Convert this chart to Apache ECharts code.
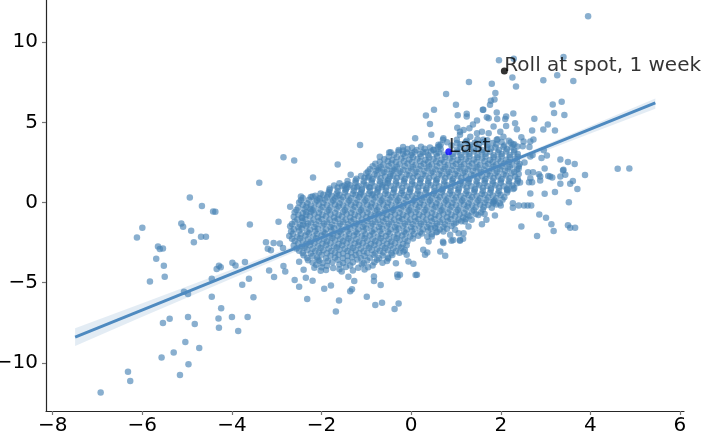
<!DOCTYPE html>
<html><head><meta charset="utf-8">
<script src="https://cdn.jsdelivr.net/npm/echarts@6/dist/echarts.min.js"></script>
<style>html,body{margin:0;padding:0;background:#fff}#c{width:709px;height:440px}</style>
</head><body><div id="c"></div>
<script>
// Dense core of the cloud
const corePoints = [
[1.02,3.92],[1.24,3.86],[1.48,3.95],[1.7,3.88],[1.93,3.94],[2.18,3.85],
[0.66,3.62],[0.9,3.55],[1.1,3.64],[1.31,3.58],[1.52,3.66],[1.7,3.57],[1.9,3.63],[2.08,3.55],[2.27,3.62],
[-0.28,3.28],[-0.08,3.34],[0.12,3.27],[0.3,3.35],[0.5,3.29],[0.66,3.33],[1.02,3.3],[1.2,3.26],[1.4,3.34],[1.58,3.28],[1.78,3.35],[1.96,3.27],[2.14,3.32],[2.3,3.26],
[-0.38,2.98],[-0.18,3.04],[0.0,2.96],[0.2,3.02],[0.38,2.95],[0.56,3.05],[0.74,2.98],[0.92,3.03],[1.1,2.96],[1.3,3.02],[1.48,2.97],[1.66,3.04],[1.84,2.95],[2.02,3.02],[2.2,2.97],[2.38,3.03],
[-0.6,2.7],[-0.42,2.66],[-0.22,2.74],[-0.04,2.68],[0.14,2.73],[0.32,2.65],[0.5,2.72],[0.68,2.67],[0.86,2.74],[1.04,2.66],[1.22,2.71],[1.4,2.68],[1.58,2.74],[1.76,2.65],[1.94,2.72],[2.12,2.67],[2.32,2.73],
[-0.8,2.42],[-0.62,2.36],[-0.44,2.44],[-0.26,2.38],[-0.08,2.43],[0.1,2.35],[0.28,2.42],[0.46,2.37],[0.64,2.45],[0.82,2.36],[1.0,2.41],[1.18,2.38],[1.36,2.44],[1.54,2.35],[1.72,2.42],[1.9,2.37],[2.08,2.44],[2.26,2.36],[2.42,2.41],
[-0.92,2.08],[-0.72,2.14],[-0.54,2.06],[-0.36,2.12],[-0.18,2.05],[0.0,2.13],[0.18,2.07],[0.36,2.14],[0.54,2.06],[0.72,2.11],[0.9,2.05],[1.08,2.13],[1.26,2.08],[1.44,2.14],[1.62,2.06],[1.8,2.12],[1.98,2.07],[2.16,2.13],[2.36,2.06],
[-1.0,1.82],[-0.82,1.76],[-0.64,1.84],[-0.46,1.78],[-0.28,1.83],[-0.1,1.75],[0.08,1.82],[0.26,1.77],[0.44,1.84],[0.62,1.76],[0.8,1.81],[0.98,1.78],[1.16,1.84],[1.34,1.75],[1.52,1.82],[1.7,1.77],[1.88,1.83],[2.06,1.76],[2.24,1.82],[2.4,1.78],
[-1.22,1.48],[-1.04,1.54],[-0.86,1.46],[-0.68,1.52],[-0.5,1.45],[-0.32,1.53],[-0.14,1.47],[0.04,1.54],[0.22,1.46],[0.4,1.51],[0.58,1.45],[0.76,1.53],[0.94,1.48],[1.12,1.54],[1.3,1.46],[1.48,1.52],[1.66,1.47],[1.84,1.53],[2.02,1.46],[2.2,1.52],[2.38,1.47],
[-1.6,1.2],[-1.42,1.16],[-1.24,1.24],[-1.06,1.17],[-0.88,1.23],[-0.7,1.15],[-0.52,1.22],[-0.34,1.17],[-0.16,1.24],[0.02,1.16],[0.2,1.21],[0.38,1.18],[0.56,1.24],[0.74,1.15],[0.92,1.22],[1.1,1.17],[1.28,1.23],[1.46,1.16],[1.64,1.22],[1.82,1.17],[2.0,1.24],[2.18,1.16],[2.36,1.21],
[-1.82,0.88],[-1.64,0.94],[-1.46,0.86],[-1.28,0.92],[-1.1,0.85],[-0.92,0.93],[-0.74,0.87],[-0.56,0.94],[-0.38,0.86],[-0.2,0.91],[-0.02,0.85],[0.16,0.93],[0.34,0.88],[0.52,0.94],[0.7,0.86],[0.88,0.92],[1.06,0.87],[1.24,0.93],[1.42,0.85],[1.6,0.92],[1.78,0.87],[1.96,0.93],[2.14,0.86],[2.3,0.91],
[-2.02,0.56],[-1.84,0.64],[-1.66,0.57],[-1.48,0.63],[-1.3,0.55],[-1.12,0.62],[-0.94,0.57],[-0.76,0.64],[-0.58,0.56],[-0.4,0.61],[-0.22,0.58],[-0.04,0.64],[0.14,0.55],[0.32,0.62],[0.5,0.57],[0.68,0.63],[0.86,0.56],[1.04,0.62],[1.22,0.57],[1.4,0.64],[1.58,0.55],[1.76,0.61],[1.94,0.58],[2.14,0.63],
[-2.42,0.28],[-2.24,0.34],[-2.06,0.26],[-1.88,0.32],[-1.7,0.25],[-1.52,0.33],[-1.34,0.27],[-1.16,0.34],[-0.98,0.26],[-0.8,0.31],[-0.62,0.25],[-0.44,0.33],[-0.26,0.28],[-0.08,0.34],[0.1,0.26],[0.28,0.32],[0.46,0.27],[0.64,0.33],[0.82,0.25],[1.0,0.32],[1.18,0.27],[1.36,0.33],[1.54,0.26],[1.72,0.31],[1.9,0.27],[2.08,0.33],
[-2.5,0.0],[-2.32,-0.04],[-2.14,0.04],[-1.96,-0.03],[-1.78,0.03],[-1.6,-0.05],[-1.42,0.02],[-1.24,-0.03],[-1.06,0.04],[-0.88,-0.04],[-0.7,0.01],[-0.52,-0.02],[-0.34,0.04],[-0.16,-0.05],[0.02,0.02],[0.2,-0.03],[0.38,0.03],[0.56,-0.04],[0.74,0.02],[0.92,-0.03],[1.1,0.04],[1.28,-0.05],[1.46,0.01],[1.64,-0.02],[1.82,0.03],[1.98,-0.04],
[-2.52,-0.32],[-2.34,-0.26],[-2.16,-0.34],[-1.98,-0.28],[-1.8,-0.33],[-1.62,-0.25],[-1.44,-0.32],[-1.26,-0.27],[-1.08,-0.34],[-0.9,-0.26],[-0.72,-0.31],[-0.54,-0.28],[-0.36,-0.34],[-0.18,-0.25],[0.0,-0.32],[0.18,-0.27],[0.36,-0.33],[0.54,-0.26],[0.72,-0.32],[0.9,-0.27],[1.08,-0.34],[1.26,-0.25],[1.44,-0.31],[1.62,-0.28],[1.8,-0.33],
[-2.6,-0.6],[-2.42,-0.66],[-2.24,-0.58],[-2.06,-0.64],[-1.88,-0.56],[-1.7,-0.63],[-1.52,-0.57],[-1.34,-0.64],[-1.16,-0.56],[-0.98,-0.62],[-0.8,-0.55],[-0.62,-0.63],[-0.44,-0.58],[-0.26,-0.64],[-0.08,-0.56],[0.1,-0.61],[0.28,-0.57],[0.46,-0.63],[0.64,-0.55],[0.82,-0.62],[1.0,-0.57],[1.18,-0.64],[1.36,-0.56],[1.56,-0.62],
[-2.62,-0.88],[-2.44,-0.94],[-2.26,-0.86],[-2.08,-0.92],[-1.9,-0.85],[-1.72,-0.93],[-1.54,-0.87],[-1.36,-0.94],[-1.18,-0.86],[-1.0,-0.91],[-0.82,-0.85],[-0.64,-0.93],[-0.46,-0.88],[-0.28,-0.94],[-0.1,-0.86],[0.08,-0.92],[0.26,-0.87],[0.44,-0.93],[0.62,-0.85],[0.8,-0.92],[0.98,-0.87],[1.16,-0.93],[1.3,-0.86],
[-2.6,-1.2],[-2.42,-1.16],[-2.24,-1.24],[-2.06,-1.17],[-1.88,-1.23],[-1.7,-1.15],[-1.52,-1.22],[-1.34,-1.17],[-1.16,-1.24],[-0.98,-1.16],[-0.8,-1.21],[-0.62,-1.18],[-0.44,-1.24],[-0.26,-1.15],[-0.08,-1.22],[0.1,-1.17],[0.28,-1.23],[0.46,-1.16],[0.64,-1.22],[0.82,-1.17],[1.0,-1.24],[1.12,-1.16],
[-2.7,-1.48],[-2.52,-1.54],[-2.34,-1.46],[-2.16,-1.52],[-1.98,-1.45],[-1.8,-1.53],[-1.62,-1.47],[-1.44,-1.54],[-1.26,-1.46],[-1.08,-1.51],[-0.9,-1.45],[-0.72,-1.53],[-0.54,-1.48],[-0.36,-1.54],[-0.18,-1.46],[0.0,-1.52],[0.18,-1.47],[0.36,-1.53],[0.54,-1.46],[0.72,-1.51],[0.9,-1.47],
[-2.68,-1.8],[-2.5,-1.76],[-2.32,-1.84],[-2.14,-1.77],[-1.96,-1.83],[-1.78,-1.75],[-1.6,-1.82],[-1.42,-1.77],[-1.24,-1.84],[-1.06,-1.76],[-0.88,-1.81],[-0.7,-1.78],[-0.52,-1.84],[-0.34,-1.75],[-0.16,-1.82],[0.02,-1.77],[0.2,-1.83],[0.38,-1.76],[0.58,-1.82],
[-2.72,-2.08],[-2.54,-2.14],[-2.36,-2.06],[-2.18,-2.12],[-2.0,-2.05],[-1.82,-2.13],[-1.64,-2.07],[-1.46,-2.14],[-1.28,-2.06],[-1.1,-2.11],[-0.92,-2.05],[-0.74,-2.13],[-0.56,-2.08],[-0.38,-2.14],[-0.2,-2.06],[-0.02,-2.12],[0.16,-2.07],[0.36,-2.13],
[-2.6,-2.4],[-2.42,-2.36],[-2.24,-2.44],[-2.06,-2.37],[-1.88,-2.43],[-1.7,-2.35],[-1.52,-2.42],[-1.34,-2.37],[-1.16,-2.44],[-0.98,-2.36],[-0.8,-2.41],[-0.62,-2.38],[-0.44,-2.44],[-0.26,-2.35],[-0.08,-2.42],
[-2.62,-2.68],[-2.44,-2.74],[-2.26,-2.66],[-2.08,-2.72],[-1.9,-2.65],[-1.72,-2.73],[-1.54,-2.67],[-1.36,-2.74],[-1.18,-2.66],[-1.0,-2.71],[-0.82,-2.65],[-0.64,-2.73],[-0.46,-2.68],[-0.28,-2.74],[-0.1,-2.66],
[-2.5,-3.0],[-2.32,-2.96],[-2.14,-3.04],[-1.96,-2.97],[-1.78,-3.03],[-1.6,-2.95],[-1.42,-3.02],[-1.24,-2.97],[-1.06,-3.04],[-0.88,-2.96],[-0.7,-3.01],[-0.52,-2.98],[-0.34,-3.04],[-0.14,-2.96],
[-2.4,-3.28],[-2.2,-3.34],[-2.0,-3.26],[-1.8,-3.32],[-1.62,-3.25],[-1.42,-3.33],[-1.24,-3.27],[-1.04,-3.34],[-0.84,-3.26],[-0.64,-3.31],[-0.42,-3.27],
[-2.3,-3.6],[-2.08,-3.56],[-1.86,-3.64],[-1.64,-3.57],[-1.42,-3.63],[-1.2,-3.55],[-0.98,-3.62],[-0.76,-3.57],[-0.54,-3.64],
[-2.12,-3.88],[-1.88,-3.94],[-1.6,-3.86],[-1.36,-3.92],[-1.1,-3.85],[-0.86,-3.93],
[-1.9,-4.2],[-1.6,-4.16],[-1.3,-4.24],[-1.04,-4.17]
];
// Points filling between the rows of the core
const coreFill = [
[0.8,3.76],[1.02,3.72],[1.22,3.78],[1.42,3.73],[1.62,3.77],[1.82,3.71],[2.02,3.78],[2.22,3.74],
[-0.18,3.46],[0.02,3.42],[0.22,3.48],[0.42,3.43],[0.6,3.47],[1.1,3.44],[1.3,3.48],[1.5,3.42],[1.7,3.47],[1.88,3.43],[2.06,3.48],[2.24,3.44],
[-0.46,3.14],[-0.28,3.18],[-0.1,3.12],[0.08,3.17],[0.26,3.13],[0.44,3.18],[0.62,3.12],[1.04,3.16],[1.22,3.12],[1.4,3.18],[1.58,3.13],[1.76,3.17],[1.94,3.12],[2.12,3.18],[2.3,3.14],
[-0.5,2.86],[-0.32,2.82],[-0.14,2.88],[0.04,2.83],[0.22,2.87],[0.4,2.81],[0.58,2.88],[0.76,2.84],[0.94,2.87],[1.12,2.82],[1.3,2.88],[1.48,2.83],[1.66,2.87],[1.84,2.82],[2.02,2.88],[2.2,2.84],[2.38,2.86],
[-0.7,2.54],[-0.52,2.58],[-0.34,2.52],[-0.16,2.57],[0.02,2.53],[0.2,2.58],[0.38,2.52],[0.56,2.56],[0.74,2.53],[0.92,2.58],[1.1,2.52],[1.28,2.57],[1.46,2.53],[1.64,2.58],[1.82,2.52],[2.0,2.56],[2.18,2.53],[2.36,2.58],
[-0.86,2.26],[-0.68,2.22],[-0.5,2.28],[-0.32,2.23],[-0.14,2.27],[0.04,2.21],[0.22,2.28],[0.4,2.24],[0.58,2.27],[0.76,2.22],[0.94,2.28],[1.12,2.23],[1.3,2.27],[1.48,2.22],[1.66,2.28],[1.84,2.24],[2.02,2.27],[2.2,2.22],[2.4,2.26],
[-0.96,1.94],[-0.78,1.98],[-0.6,1.92],[-0.42,1.97],[-0.24,1.93],[-0.06,1.98],[0.12,1.92],[0.3,1.96],[0.48,1.93],[0.66,1.98],[0.84,1.92],[1.02,1.97],[1.2,1.93],[1.38,1.98],[1.56,1.92],[1.74,1.96],[1.92,1.93],[2.1,1.98],[2.3,1.92],
[-1.12,1.66],[-0.94,1.62],[-0.76,1.68],[-0.58,1.63],[-0.4,1.67],[-0.22,1.61],[-0.04,1.68],[0.14,1.64],[0.32,1.67],[0.5,1.62],[0.68,1.68],[0.86,1.63],[1.04,1.67],[1.22,1.62],[1.4,1.68],[1.58,1.64],[1.76,1.67],[1.94,1.62],[2.12,1.68],[2.32,1.63],
[-1.42,1.34],[-1.24,1.38],[-1.06,1.32],[-0.88,1.37],[-0.7,1.33],[-0.52,1.38],[-0.34,1.32],[-0.16,1.36],[0.02,1.33],[0.2,1.38],[0.38,1.32],[0.56,1.37],[0.74,1.33],[0.92,1.38],[1.1,1.32],[1.28,1.36],[1.46,1.33],[1.64,1.38],[1.82,1.32],[2.0,1.37],[2.18,1.33],[2.38,1.36],
[-1.72,1.06],[-1.54,1.02],[-1.36,1.08],[-1.18,1.03],[-1.0,1.07],[-0.82,1.01],[-0.64,1.08],[-0.46,1.04],[-0.28,1.07],[-0.1,1.02],[0.08,1.08],[0.26,1.03],[0.44,1.07],[0.62,1.02],[0.8,1.08],[0.98,1.04],[1.16,1.07],[1.34,1.02],[1.52,1.08],[1.7,1.03],[1.88,1.07],[2.06,1.02],[2.26,1.06],
[-1.82,0.78],[-1.64,0.72],[-1.46,0.77],[-1.28,0.73],[-1.1,0.78],[-0.92,0.72],[-0.74,0.76],[-0.56,0.73],[-0.38,0.78],[-0.2,0.72],[-0.02,0.77],[0.16,0.73],[0.34,0.78],[0.52,0.72],[0.7,0.76],[0.88,0.73],[1.06,0.78],[1.24,0.72],[1.42,0.77],[1.6,0.73],[1.78,0.78],[1.96,0.72],[2.16,0.76],
[-2.14,0.42],[-1.96,0.48],[-1.78,0.43],[-1.6,0.47],[-1.42,0.41],[-1.24,0.48],[-1.06,0.44],[-0.88,0.47],[-0.7,0.42],[-0.52,0.48],[-0.34,0.43],[-0.16,0.47],[0.02,0.42],[0.2,0.48],[0.38,0.44],[0.56,0.47],[0.74,0.42],[0.92,0.48],[1.1,0.43],[1.28,0.47],[1.46,0.42],[1.64,0.48],[1.82,0.44],[2.0,0.47],
[-2.46,0.14],[-2.28,0.18],[-2.1,0.12],[-1.92,0.17],[-1.74,0.13],[-1.56,0.18],[-1.38,0.12],[-1.2,0.16],[-1.02,0.13],[-0.84,0.18],[-0.66,0.12],[-0.48,0.17],[-0.3,0.13],[-0.12,0.18],[0.06,0.12],[0.24,0.16],[0.42,0.13],[0.6,0.18],[0.78,0.12],[0.96,0.17],[1.14,0.13],[1.32,0.18],[1.5,0.12],[1.68,0.16],[1.86,0.13],[2.04,0.17],
[-2.42,-0.14],[-2.24,-0.18],[-2.06,-0.12],[-1.88,-0.17],[-1.7,-0.13],[-1.52,-0.18],[-1.34,-0.12],[-1.16,-0.16],[-0.98,-0.13],[-0.8,-0.18],[-0.62,-0.12],[-0.44,-0.17],[-0.26,-0.13],[-0.08,-0.18],[0.1,-0.12],[0.28,-0.16],[0.46,-0.13],[0.64,-0.18],[0.82,-0.12],[1.0,-0.17],[1.18,-0.13],[1.36,-0.18],[1.54,-0.12],[1.72,-0.16],[1.9,-0.13],
[-2.56,-0.46],[-2.38,-0.42],[-2.2,-0.48],[-2.02,-0.43],[-1.84,-0.47],[-1.66,-0.41],[-1.48,-0.48],[-1.3,-0.44],[-1.12,-0.47],[-0.94,-0.42],[-0.76,-0.48],[-0.58,-0.43],[-0.4,-0.47],[-0.22,-0.42],[-0.04,-0.48],[0.14,-0.44],[0.32,-0.47],[0.5,-0.42],[0.68,-0.48],[0.86,-0.43],[1.04,-0.47],[1.22,-0.42],[1.4,-0.48],[1.6,-0.44],
[-2.52,-0.74],[-2.34,-0.78],[-2.16,-0.72],[-1.98,-0.77],[-1.8,-0.73],[-1.62,-0.78],[-1.44,-0.72],[-1.26,-0.76],[-1.08,-0.73],[-0.9,-0.78],[-0.72,-0.72],[-0.54,-0.77],[-0.36,-0.73],[-0.18,-0.78],[0.0,-0.72],[0.18,-0.76],[0.36,-0.73],[0.54,-0.78],[0.72,-0.72],[0.9,-0.77],[1.08,-0.73],[1.26,-0.78],[1.44,-0.72],
[-2.54,-1.06],[-2.36,-1.02],[-2.18,-1.08],[-2.0,-1.03],[-1.82,-1.07],[-1.64,-1.01],[-1.46,-1.08],[-1.28,-1.04],[-1.1,-1.07],[-0.92,-1.02],[-0.74,-1.08],[-0.56,-1.03],[-0.38,-1.07],[-0.2,-1.02],[-0.02,-1.08],[0.16,-1.04],[0.34,-1.07],[0.52,-1.02],[0.7,-1.08],[0.88,-1.03],[1.06,-1.07],[1.22,-1.02],
[-2.66,-1.34],[-2.48,-1.38],[-2.3,-1.32],[-2.12,-1.37],[-1.94,-1.33],[-1.76,-1.38],[-1.58,-1.32],[-1.4,-1.36],[-1.22,-1.33],[-1.04,-1.38],[-0.86,-1.32],[-0.68,-1.37],[-0.5,-1.33],[-0.32,-1.38],[-0.14,-1.32],[0.04,-1.36],[0.22,-1.33],[0.4,-1.38],[0.58,-1.32],[0.76,-1.37],[0.96,-1.33],
[-2.62,-1.66],[-2.44,-1.62],[-2.26,-1.68],[-2.08,-1.63],[-1.9,-1.67],[-1.72,-1.61],[-1.54,-1.68],[-1.36,-1.64],[-1.18,-1.67],[-1.0,-1.62],[-0.82,-1.68],[-0.64,-1.63],[-0.46,-1.67],[-0.28,-1.62],[-0.1,-1.68],[0.08,-1.64],[0.26,-1.67],[0.44,-1.62],[0.64,-1.68],[0.8,-1.63],
[-2.64,-1.94],[-2.46,-1.98],[-2.28,-1.92],[-2.1,-1.97],[-1.92,-1.93],[-1.74,-1.98],[-1.56,-1.92],[-1.38,-1.96],[-1.2,-1.93],[-1.02,-1.98],[-0.84,-1.92],[-0.66,-1.97],[-0.48,-1.93],[-0.3,-1.98],[-0.12,-1.92],[0.06,-1.96],[0.24,-1.93],[0.46,-1.98],
[-2.66,-2.26],[-2.48,-2.22],[-2.3,-2.28],[-2.12,-2.23],[-1.94,-2.27],[-1.76,-2.21],[-1.58,-2.28],[-1.4,-2.24],[-1.22,-2.27],[-1.04,-2.22],[-0.86,-2.28],[-0.68,-2.23],[-0.5,-2.27],[-0.32,-2.22],[-0.14,-2.28],[0.04,-2.24],
[-2.52,-2.54],[-2.34,-2.58],[-2.16,-2.52],[-1.98,-2.57],[-1.8,-2.53],[-1.62,-2.58],[-1.44,-2.52],[-1.26,-2.56],[-1.08,-2.53],[-0.9,-2.58],[-0.72,-2.52],[-0.54,-2.57],[-0.36,-2.53],[-0.18,-2.58],
[-2.56,-2.86],[-2.38,-2.82],[-2.2,-2.88],[-2.02,-2.83],[-1.84,-2.87],[-1.66,-2.81],[-1.48,-2.88],[-1.3,-2.84],[-1.12,-2.87],[-0.94,-2.82],[-0.76,-2.88],[-0.58,-2.83],[-0.4,-2.87],[-0.22,-2.82],
[-2.42,-3.14],[-2.24,-3.18],[-2.06,-3.12],[-1.88,-3.17],[-1.7,-3.13],[-1.52,-3.18],[-1.34,-3.12],[-1.16,-3.16],[-0.98,-3.13],[-0.8,-3.18],[-0.62,-3.12],[-0.44,-3.17],[-0.26,-3.13],
[-2.32,-3.46],[-2.1,-3.42],[-1.9,-3.48],[-1.7,-3.43],[-1.52,-3.47],[-1.32,-3.41],[-1.12,-3.48],[-0.92,-3.44],[-0.72,-3.47],[-0.52,-3.42],
[-2.2,-3.74],[-1.98,-3.78],[-1.76,-3.72],[-1.52,-3.77],[-1.3,-3.73],[-1.06,-3.78],[-0.82,-3.72],[-0.64,-3.76],
[-2.0,-4.04],[-1.74,-4.08],[-1.46,-4.02],[-1.18,-4.07],[-0.96,-4.03]
];
// Sparser points around the core
const outerPoints = [
[-4.94,0.31],[-4.67,-0.22],[-4.42,-0.56],[-4.37,-0.58],[-3.39,1.23],[-3.60,-1.37],[-6.0,-1.58],[-6.12,-2.18],[-5.13,-1.31],[-5.09,-1.51],[-4.91,-1.76],[-4.85,-2.47],[-4.69,-2.14],[-4.58,-2.14],[-5.65,-2.74],[-5.61,-2.90],[-5.54,-2.87],[-5.69,-3.51],[-5.52,-3.94],[-5.50,-4.63],[-5.83,-4.92],[-5.07,-5.56],[-4.98,-5.71],[-4.45,-4.75],[-4.45,-5.88],[-4.34,-4.15],[-4.29,-3.94],[-4.25,-4.03],[-3.99,-3.76],[-3.92,-3.92],[-3.71,-3.71],[-3.62,-4.75],[-3.77,-5.13],[-3.52,-5.9],[-4.24,-6.6],[-4.30,-7.23],[-4.29,-7.81],[-4.0,-7.14],[-3.65,-7.14],[-3.86,-8.01],[-5.39,-7.25],[-5.54,-7.52],[-4.98,-7.14],[-4.83,-7.58],[-5.04,-8.70],[-4.73,-9.07],[-5.30,-9.35],[-5.57,-9.66],[-4.97,-10.09],[-5.16,-10.75],[-6.32,-10.55],[-6.27,-11.13],[-6.93,-11.84],
[1.29,7.52],[0.78,6.77],[1.0,6.09],[1.24,5.53],[0.51,5.78],[0.33,5.42],[0.42,4.90],[1.04,5.45],[0.45,4.22],[0.09,4.01],[1.03,4.67],[1.09,4.42],[1.30,4.64],[1.38,4.86],[1.47,5.11],[-1.14,3.58],[-2.85,2.83],[-2.61,2.62],[-1.64,2.37],[-2.19,1.56],[-1.35,1.73],[-0.70,2.85],[-0.96,1.56],[-0.74,2.04],[-2.46,0.37],[-2.20,0.37],[-2.70,-0.27],[-0.49,3.12],[-0.18,3.24],[0.02,3.08],[0.33,3.14],[0.71,3.91],[0.63,3.49],
[-2.03,0.23],[-1.85,0.52],[-1.66,0.37],[-1.49,1.06],[-1.42,0.96],[-1.21,0.96],[-1.14,0.52],[-0.94,0.96],[-0.85,0.52],[-0.65,0.96],[-0.58,1.25],[-0.47,1.62],[-0.39,2.04],
[1.24,5.36],[1.61,5.78],[1.76,6.09],[1.91,5.61],[2.12,5.36],[1.73,5.26],[1.84,4.74],[1.99,4.42],[2.12,4.78],[1.17,4.53],[1.47,4.32],[1.58,4.42],[1.73,4.32],[1.32,4.11],[1.09,4.22],[1.61,3.91],[1.91,3.91],[2.06,4.11],[0.72,4.01],[0.61,3.6],[0.50,3.28],
[3.95,11.61],[1.96,8.87],[2.29,8.97],[3.40,9.08],[3.26,7.94],[2.95,7.63],[3.62,7.58],[2.26,7.79],[2.34,7.23],[1.80,7.40],[1.88,6.83],[1.86,6.42],[1.78,6.34],[3.36,6.29],[3.16,6.11],[3.19,5.59],[3.42,5.46],[1.60,5.79],[1.69,5.32],[1.92,5.21],[2.28,5.55],[2.10,5.21],[2.75,5.23],[3.05,4.86],[2.95,4.55],[3.21,4.49],[2.36,4.57],[2.70,4.49],[2.46,4.07],[2.66,3.80],[2.73,3.93],[2.30,3.64],[2.37,3.49],[2.49,3.51],[2.64,3.47],[2.96,3.26],[2.91,2.77],[3.03,2.93],[2.71,2.97],[2.66,2.87],[4.61,2.10],[4.87,2.12],[3.33,2.68],[3.50,2.52],[3.65,2.41],[3.88,1.71],[3.39,1.99],[3.44,1.73],[3.33,1.62],[3.10,1.62],[3.15,1.56],[3.61,1.35],[3.33,1.17],[3.55,1.17],[3.71,0.85],[3.21,0.65],[2.98,0.54],[2.66,0.56],[2.61,1.89],[2.72,1.89],[2.85,1.77],[2.88,1.37],[3.06,1.66],[2.63,1.27],[2.70,1.27],[2.43,1.25],[3.52,0.02],[2.53,2.49],[2.40,2.12],[2.98,2.12],
[2.32,4.95],[3.40,2.04],[2.28,0.84],[2.14,0.79],[2.51,3.8],[2.88,1.62],[2.66,1.52],
[1.84,0.06],[1.84,-0.04],[2.0,-0.19],[2.27,-0.04],[2.27,-0.33],[2.40,-0.19],[2.52,-0.19],[2.60,-0.19],[2.68,-0.19],[2.86,-0.75],[3.01,-0.95],[3.13,-1.35],[3.18,-1.78],[2.46,-1.50],[2.81,-2.09],[3.50,-1.41],[3.55,-1.58],[3.66,-1.58],[1.87,-0.81],[1.64,-0.72],[1.68,-1.08],[1.58,-1.35],
[1.50,-0.77],[1.35,-1.08],[1.20,-1.18],[1.28,-1.50],[1.17,-1.91],[1.09,-2.33],[0.94,-2.33],[0.87,-2.01],[0.98,-1.70],[0.72,-1.81],[0.72,-2.53],[0.65,-3.05],[0.76,-3.32],[0.46,-2.12],[0.39,-2.43],[0.27,-2.95],[0.31,-3.26],[-0.10,-3.26],[-0.06,-3.68],[0.05,-3.82],[0.13,-4.50],[-0.25,-4.50],[-0.17,-3.05],
[-3.24,-2.47],[-2.96,-1.20],[-3.17,-4.24],[-3.06,-4.65],[-2.85,-3.96],[-2.81,-4.30],[-2.60,-4.83],[-2.50,-5.25],[-2.32,-6.02],[-2.35,-4.69],[-2.20,-4.88],[-1.94,-5.38],[-1.79,-5.17],[-1.61,-6.11],[-1.68,-6.79],[-1.36,-5.54],[-1.32,-5.40],[-0.99,-5.88],[-0.80,-6.39],[-0.65,-6.25],[-0.37,-6.64],[-0.28,-6.29],[-0.68,-5.15],[-0.31,-4.49],[-0.30,-4.65],[0.10,-4.52],[-1.27,-4.90],[-1.40,-4.63],[-1.55,-4.30],[-0.83,-4.61],[-0.83,-4.90],[-0.34,-3.78],[-0.51,-3.49],[0.36,-3.12],[0.71,-2.45],[0.90,-2.39],[1.09,-2.39],[1.06,-1.91],[1.16,-2.26],[0.56,-1.85],[0.53,-1.58],[-2.05,-3.63],[-2.02,-4.26],[-2.16,-4.07],[-2.50,-3.69],[-2.40,-4.19],[-2.93,-2.55],[-2.86,-2.84],[-3.20,-2.88],[-3.07,-2.53],[-3.13,-2.97],[-2.41,-1.39],[-2.43,-0.97],[-2.34,-0.60],[-2.25,-0.41]
];
const lastPoint = [0.84, 3.16];
const rollPoint = [2.08, 8.2];
const lastLabel = 'Last';
const rollLabel = 'Roll at spot, 1 week';
// Regression line end points and confidence band
const lineX = [-7.5, 5.45];
const lineY = [-8.39, 6.21];
const bandX = [-7.5, -6, -4, -2, 0, 2, 4, 5.45];
const bandLo = [-8.94, -7.12, -4.74, -2.37, -0.06, 2.15, 4.30, 5.85];
const bandHi = [-7.84, -6.28, -4.18, -2.05, 0.14, 2.43, 4.78, 6.49];
const xTicks = [-8, -6, -4, -2, 0, 2, 4, 6];
const yTicks = [-10, -5, 0, 5, 10];

const FONT = 'DejaVu Sans';
const fmt = v => String(v).replace('-', '\u2212');
const chart = echarts.init(document.getElementById('c'), null, {renderer: 'canvas'});
const axisCommon = {
  type: 'value', splitLine: {show: false},
  axisLine: {show: true, onZero: false, lineStyle: {color: '#262626', width: 1.2}},
  axisTick: {show: true, length: 4, lineStyle: {color: '#777', width: 1.2}},
  axisLabel: {color: '#000', fontFamily: FONT, fontSize: 20, formatter: fmt}
};
chart.setOption({
  animation: false,
  grid: {left: 46, right: 25, top: 0, bottom: 29, containLabel: false, outerBoundsMode: 'none'},
  xAxis: Object.assign({}, axisCommon, {
    min: -8.15, max: 6.09,
    axisTick: Object.assign({}, axisCommon.axisTick, {customValues: xTicks}),
    axisLabel: Object.assign({}, axisCommon.axisLabel, {customValues: xTicks, margin: 5})
  }),
  yAxis: Object.assign({}, axisCommon, {
    min: -13.0, max: 12.63,
    axisTick: Object.assign({}, axisCommon.axisTick, {customValues: yTicks}),
    axisLabel: Object.assign({}, axisCommon.axisLabel, {customValues: yTicks, margin: 8})
  }),
  series: [
    {type: 'scatter', data: corePoints.concat(coreFill, outerPoints), symbolSize: 6.5,
     itemStyle: {color: 'rgba(70,130,180,0.8)'}, z: 2, silent: true},
    {type: 'custom', z: 3, silent: true, data: [[0, 0]],
     renderItem: function (params, api) {
       const pts = [];
       for (let i = 0; i < bandX.length; i++) pts.push(api.coord([bandX[i], bandHi[i]]));
       for (let i = bandX.length - 1; i >= 0; i--) pts.push(api.coord([bandX[i], bandLo[i]]));
       return {type: 'polygon', shape: {points: pts}, style: {fill: 'rgba(70,130,180,0.15)'}};
     }},
    {type: 'line', z: 4, silent: true, showSymbol: false,
     data: lineX.map((x, i) => [x, lineY[i]]),
     lineStyle: {color: 'rgb(78,138,192)', width: 3}},
    {type: 'scatter', z: 5, silent: true, data: [lastPoint], symbolSize: 7,
     itemStyle: {color: '#0000ff'},
     label: {show: true, formatter: lastLabel, position: [3.5, -1.5], align: 'left', verticalAlign: 'middle',
             color: '#000', fontFamily: FONT, fontSize: 20}},
    {type: 'scatter', z: 5, silent: true, data: [rollPoint], symbolSize: 7,
     itemStyle: {color: '#000'},
     label: {show: true, formatter: rollLabel, position: [3.5, -1.5], align: 'left', verticalAlign: 'middle',
             color: '#000', fontFamily: FONT, fontSize: 20}}
  ]
});
</script></body></html>
